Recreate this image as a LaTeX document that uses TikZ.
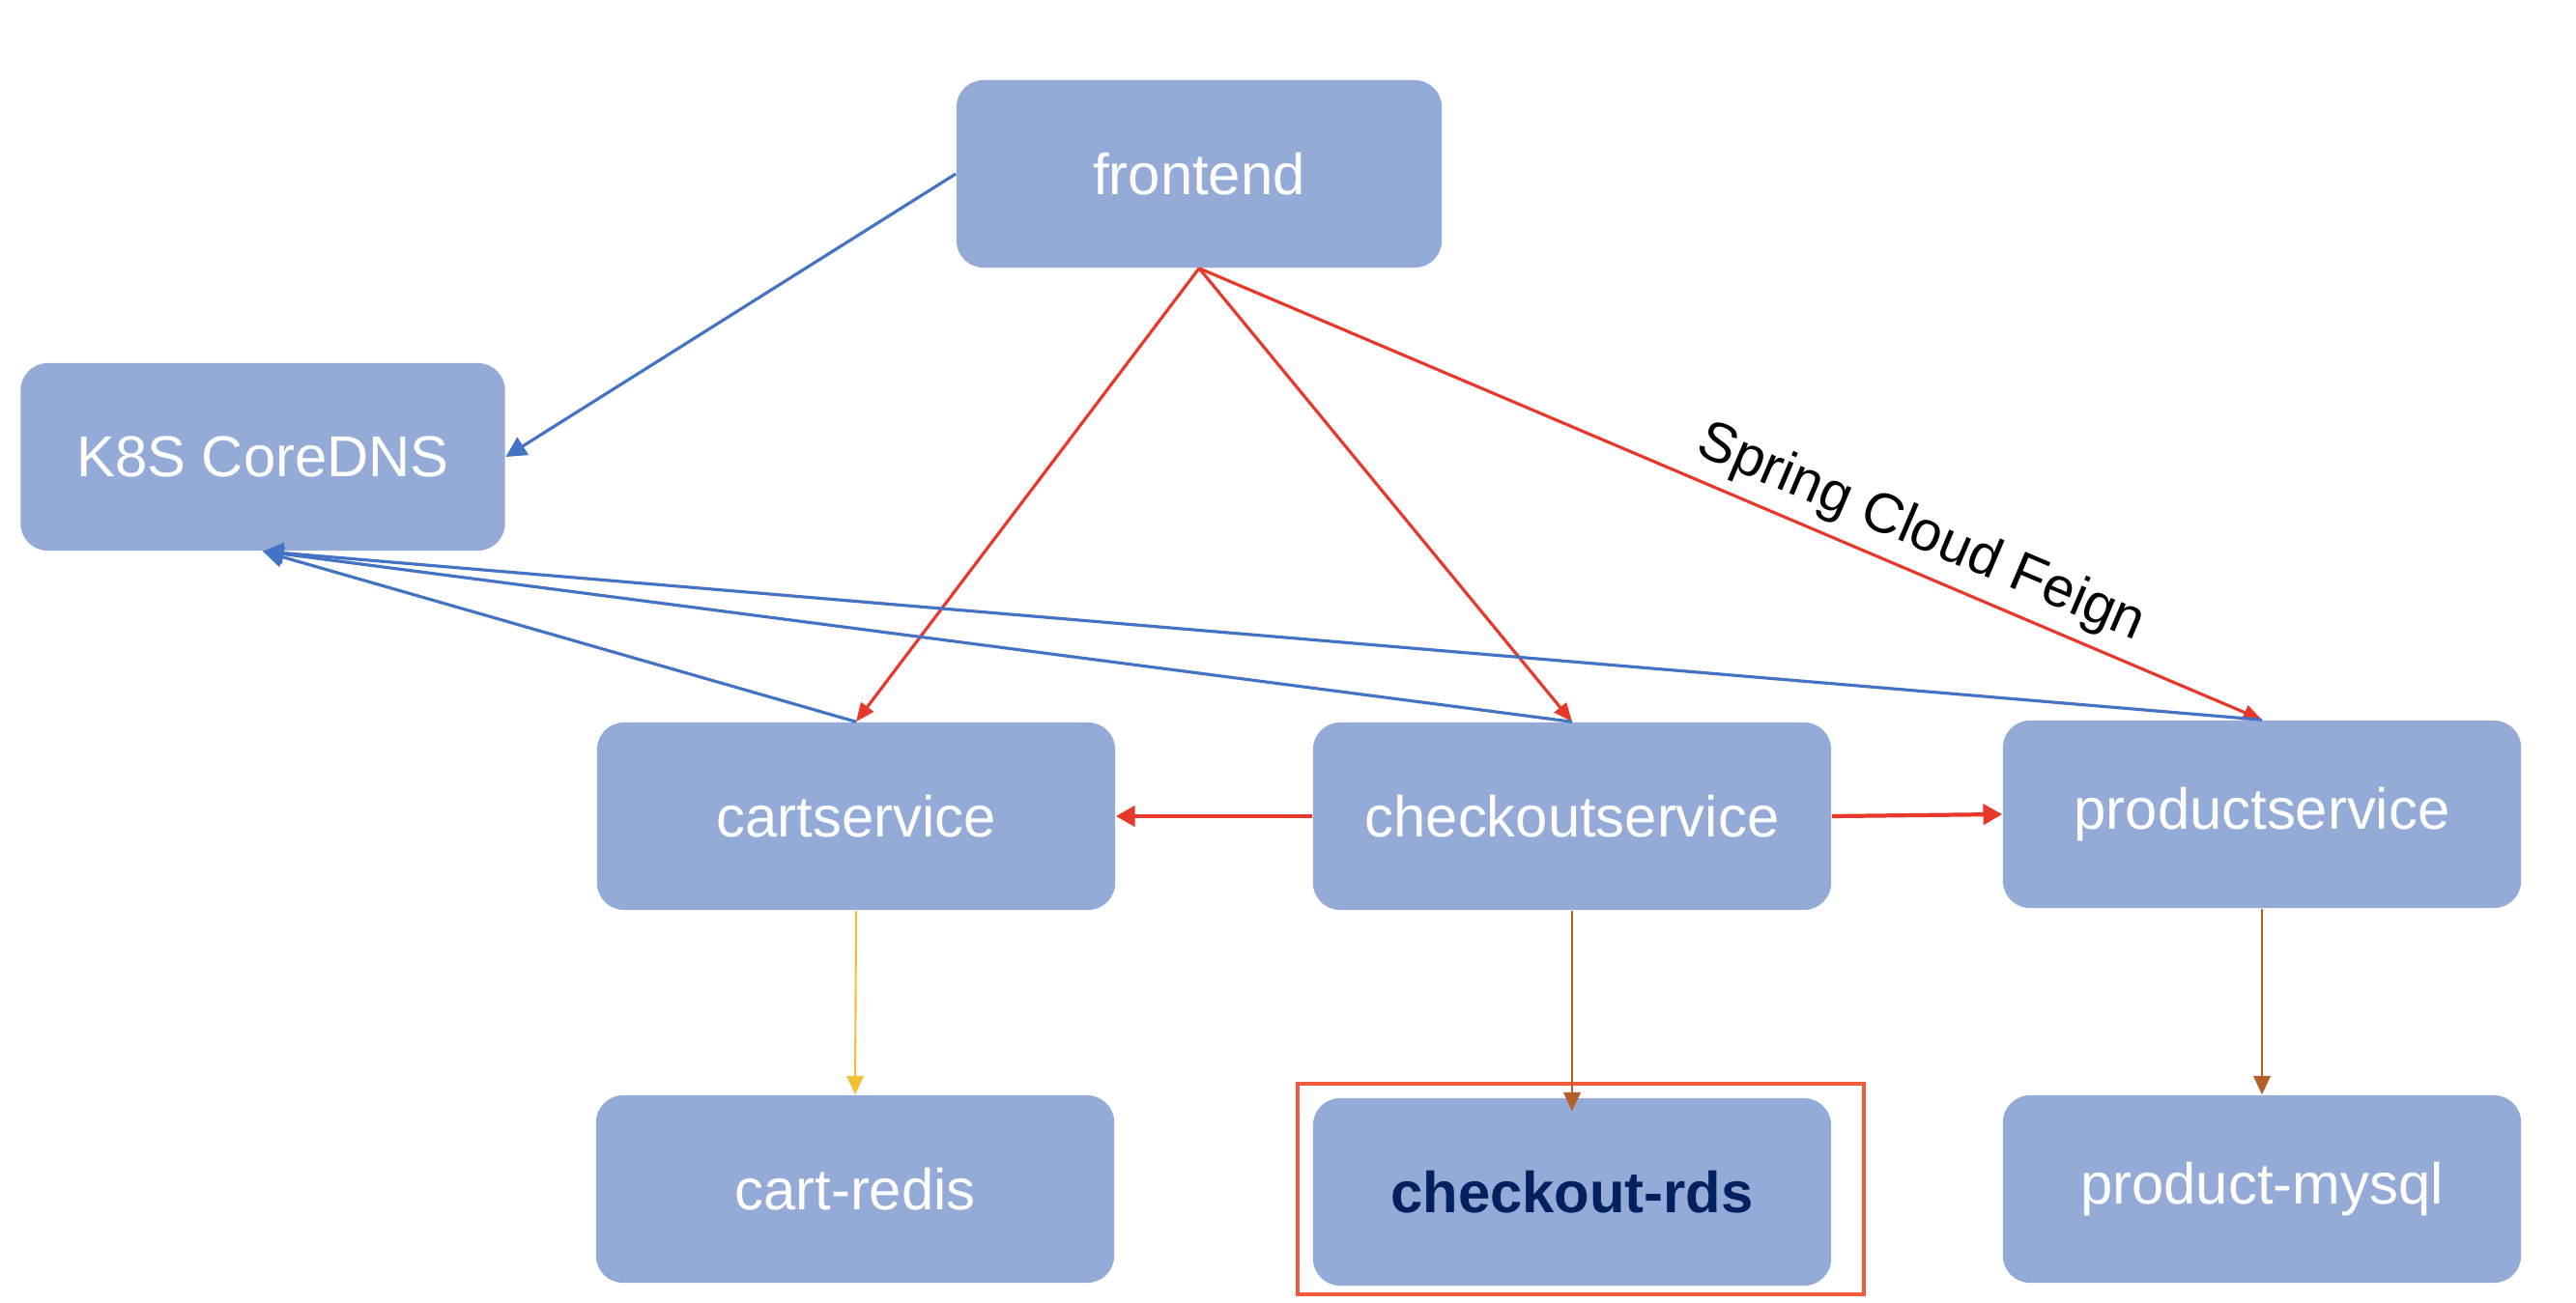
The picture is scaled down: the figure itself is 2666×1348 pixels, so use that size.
\documentclass[tikz,border=0pt]{standalone}
\usepackage{fontspec}
\setmainfont{Liberation Sans}
\usepackage{tikz}
\usetikzlibrary{arrows.meta, positioning}
\definecolor{boxfill}{RGB}{148,171,216}
\definecolor{dnsblue}{RGB}{68,114,196}
\definecolor{callred}{RGB}{232,56,43}
\definecolor{redisgold}{RGB}{242,192,56}
\definecolor{dbbrown}{RGB}{181,96,42}
\definecolor{markred}{RGB}{242,90,61}
\definecolor{rdsnavy}{RGB}{0,32,96}
\newcommand{\serviceBox}[4]{
	\node[svc] (#1) at (#2, #3) {#4};
}

\begin{document}
\begin{tikzpicture}[x=0.01cm, y=-0.01cm,
	svc/.style={fill=boxfill, rounded corners=0.28cm, minimum width=5.36cm,
		minimum height=1.94cm, inner sep=0pt, text=white,
		font=\fontsize{17}{20}\selectfont},
	dnsline/.style={dnsblue, line width=0.9pt, -{Triangle[length=6pt, width=6pt]}},
	callline/.style={callred, line width=0.9pt, -{Triangle[length=5.5pt, width=4.5pt]}},
	sideline/.style={callred, line width=1.2pt, -{Triangle[length=5.6pt, width=6pt]}},
	dbline/.style={line width=0.6pt, -{Triangle[length=5.5pt, width=5pt]}}]
	\useasboundingbox (0,0) rectangle (2666,1348);
	% top row
	\node[svc, minimum width=5.02cm] (frontend) at (1241, 180) {frontend};
	\node[svc, minimum width=5.01cm] (coredns) at (272, 473) {K8S CoreDNS};
	% services
	\serviceBox{cart}{886}{845}{cartservice}
	\serviceBox{checkout}{1627}{845}{checkoutservice}
	\serviceBox{product}{2341}{843}{productservice}
	% storage
	\serviceBox{redis}{885}{1231}{cart-redis}
	\node[svc, text=rdsnavy, font=\fontsize{17}{20}\selectfont\bfseries] (rds) at (1627, 1234) {checkout-rds};
	\serviceBox{mysql}{2341}{1231}{product-mysql}
	\draw[markred, line width=1pt] ([shift={(-15,-14)}]rds.north west) rectangle ([shift={(33,8)}]rds.south east);

	\draw[dnsline] (frontend.west) -- (coredns.east);
	\draw[callline] (frontend.south) -- (cart.north);
	\draw[callline] (frontend.south) -- (checkout.north);
	\draw[callline] (frontend.south) -- node[sloped, above=1pt, pos=0.665, inner sep=2pt,
		text=black, font=\fontsize{16.5}{20}\selectfont] {Spring Cloud Feign} (product.north);
	\draw[dnsline] (cart.north) -- (coredns.south);
	\draw[dnsline] (checkout.north) -- (coredns.south);
	\draw[dnsline] (product.north) -- (coredns.south);
	\draw[sideline] (checkout.west) -- (cart.east);
	\draw[sideline] (checkout.east) -- (product.west);
	\draw[dbline, redisgold] (cart.south) -- (redis.north);
	\draw[dbline, dbbrown] (checkout.south) -- ([yshift=-4]rds.north);
	\draw[dbline, dbbrown] (product.south) -- (mysql.north);
\end{tikzpicture}
\end{document}
